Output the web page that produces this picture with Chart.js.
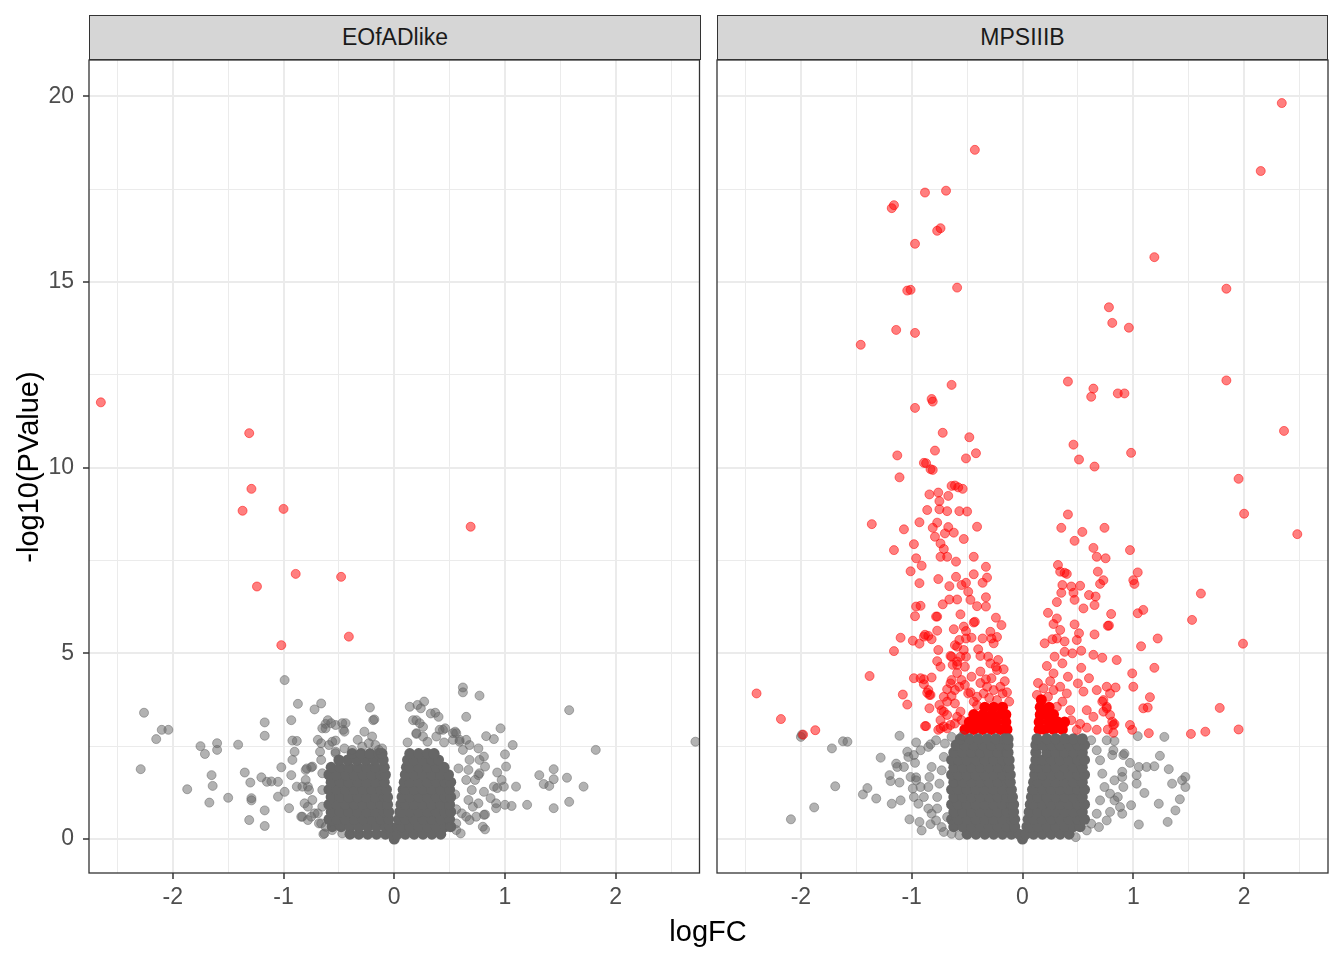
<!DOCTYPE html>
<html>
<head>
<meta charset="utf-8">
<script src="https://cdn.jsdelivr.net/npm/chart.js@4.4.1/dist/chart.umd.min.js"></script>
<style>
  body { margin: 0; width: 1344px; height: 960px; position: relative; background: #fff; overflow: hidden;
         font-family: "Liberation Sans", Arial, sans-serif; }
  canvas { position: absolute; top: 0; }
  .strip { position: absolute; top: 15px; height: 45px; box-sizing: border-box; background: #D6D6D6;
           border: 1.3px solid #333; color: #1A1A1A; font-size: 23px; line-height: 43px; text-align: center; }
  .title { position: absolute; width: 400px; height: 40px; line-height: 40px; text-align: center;
           font-size: 29px; color: #000; }
</style>
</head>
<body>
<canvas id="c1" width="705" height="960" style="left:0"></canvas>
<canvas id="c2" width="639" height="960" style="left:705px"></canvas>
<div class="strip" id="s1" style="left:89px;width:612px"></div>
<div class="strip" id="s2" style="left:717px;width:611px"></div>
<div class="title" style="left:-172px;top:447px;transform:rotate(-90deg)">-log10(PValue)</div>
<div class="title" style="left:508px;top:911px">logFC</div>
<script>
const FONT = '"Liberation Sans", Arial, sans-serif';

// axes
const panelNames = ['EOfADlike', 'MPSIIIB'];
const xTicks = [-2.5, -2, -1.5, -1, -0.5, 0, 0.5, 1, 1.5, 2, 2.5];
const yTicks = [0, 2.5, 5, 7.5, 10, 12.5, 15, 17.5, 20];
const xRange = [-2.757, 2.757];
const yRange = [-0.916, 20.98];

// EOfADlike: significant genes (red) and the rest (grey)
const eofadRed = [[-2.65,11.76],[-1.31,10.93],[-1.29,9.43],[-1.37,8.84],[-1.00,8.89],[0.69,8.41],
  [-0.89,7.14],[-0.48,7.06],[-1.24,6.80],[-0.41,5.45],[-1.02,5.22]];

const eofadGray = [
  [-0.99,4.28],[-2.26,3.40],[-2.10,2.94],[-2.04,2.94],[-2.15,2.69],[-2.29,1.88],[-1.75,2.50],[-1.71,2.29],
  [-1.60,2.58],[-1.60,2.40],[-1.41,2.54],[-1.65,1.72],[-1.64,1.43],[-1.87,1.34],[-1.67,0.98],[-1.50,1.11],
  [-1.35,1.79],[-1.30,1.52],[-1.29,1.10],[-1.29,1.04],[-1.31,0.51],[-1.17,0.77],[-1.17,0.35],[-1.17,3.14],
  [-1.17,2.78],[-0.87,3.64],[-0.93,3.20],[-0.66,3.65],[-0.72,3.49],[-0.92,2.65],[-0.88,2.64],[-0.90,2.35],
  [-0.92,2.13],[-1.02,1.93],[-1.20,1.66],[-1.15,1.54],[-1.11,1.55],[-1.05,1.54],[-1.05,1.14],[-0.95,0.83],
  [-0.93,1.72],[-0.99,1.27],[-0.88,1.41],[-0.84,0.60],[-0.64,0.13],[-0.60,3.20],[-0.62,3.10],[-0.53,3.07],
  [-0.44,3.12],[-0.46,2.94],[-0.22,3.54],[-0.19,3.20],[-0.27,2.89],[-0.69,2.67],[-0.66,2.58],[-0.59,2.53],
  [-0.53,2.65],[-0.67,2.35],[-0.53,2.31],[-0.66,2.13],[-0.79,1.90],[-0.75,1.93],[-0.80,1.59],[-0.78,1.41],
  [-0.78,0.87],[-0.75,0.60],[-0.69,0.69],[-0.66,0.42],[-0.62,2.98],[-0.65,2.98],[-0.57,3.12],[-0.47,3.12],
  [-0.45,2.89],[-0.18,3.22],[-0.20,2.76],[-0.14,2.40],[-0.56,2.62],[-0.53,2.35],[-0.45,2.44],[-0.38,2.40],
  [-0.33,2.67],[-0.29,2.49],[-0.23,2.58],[-0.17,2.53],[-0.11,2.44],[-0.80,1.86],[-0.74,1.95],[-0.83,1.41],
  [-0.77,1.32],[-0.81,0.96],[-0.74,1.05],[-0.83,0.60],[-0.78,0.51],[-0.72,0.69],[-0.65,0.87],[-0.65,1.77],
  [-0.65,1.32],[-0.68,0.42],[-0.62,0.33],[-0.63,0.15],[-0.56,0.24],[-0.47,0.15],[-0.38,0.15],
  [0.62,4.08],[0.62,3.95],[0.77,3.86],[0.27,3.70],[0.24,3.52],[0.17,3.20],[0.20,3.20],[0.33,3.38],
  [0.37,3.40],[0.40,3.29],[0.65,3.29],[0.26,3.02],[0.20,2.83],[0.41,2.94],[0.46,2.98],[0.55,2.89],
  [0.59,2.67],[0.65,2.67],[0.68,2.53],[0.76,2.44],[0.83,2.77],[0.90,2.69],[0.96,2.98],[1.07,2.53],
  [1.00,2.28],[1.01,1.95],[1.58,3.47],[1.82,2.40],[2.72,2.62],[1.31,1.72],[1.44,1.88],[1.44,1.61],
  [1.35,1.48],[1.40,1.43],[1.56,1.65],[1.71,1.41],[1.44,0.83],[1.58,1.00],[1.20,0.92],[1.10,1.41],
  [1.06,0.89],[1.00,0.92],[0.93,1.79],[0.97,1.59],[0.99,1.41],[0.93,1.37],[0.90,1.41],[0.92,0.83],
  [0.82,0.66],[0.82,0.26],[0.81,1.27],[0.87,1.10],[0.76,0.96],[0.74,0.60],[0.68,0.51],[0.56,0.42],
  [0.50,0.33],[0.81,2.22],[0.82,1.95],[0.77,2.13],[0.68,2.13],[0.67,1.86],[0.76,1.72],[0.73,1.59],
  [0.62,2.40],[0.56,2.85],[0.53,2.67],[0.65,1.59],[0.70,1.32],[0.67,1.05],[0.71,0.87],[0.61,0.69],
  [0.14,3.56],[0.21,3.61],[0.23,3.12],[0.20,2.85],[0.26,2.76],[0.38,2.76],[0.44,2.94],[0.53,2.85],
  [0.59,2.62],[0.12,2.60],[0.30,2.62],[0.45,2.60],[0.80,0.33],[0.81,0.65],[0.92,0.96],[0.56,0.24],
  [0.65,0.60],[0.77,1.77],[0.60,0.15],[0.55,1.20],[0.58,1.90],[0.56,0.80]
];

// EOfADlike: the solid grey mass of overlapping genes, by row [y, [x...]]
const eofadCoreRows = [
  [0.00, [0]],
  [0.13, [-0.40,-0.32,-0.24,-0.16,-0.08,-0.02,0.03,0.10,0.18,0.26,0.34,0.42]],
  [0.33, [-0.56,-0.48,-0.40,-0.32,-0.24,-0.16,-0.08,-0.04,0.03,0.07,0.14,0.22,0.30,0.38,0.46,0.51]],
  [0.53, [-0.59,-0.52,-0.44,-0.36,-0.28,-0.20,-0.12,-0.05,0.04,0.10,0.18,0.26,0.34,0.42,0.50]],
  [0.73, [-0.57,-0.49,-0.41,-0.33,-0.25,-0.17,-0.09,-0.05,0.05,0.07,0.14,0.22,0.30,0.38,0.46,0.51]],
  [0.93, [-0.59,-0.52,-0.44,-0.36,-0.28,-0.20,-0.12,-0.06,0.06,0.10,0.18,0.26,0.34,0.42,0.50]],
  [1.13, [-0.57,-0.49,-0.41,-0.33,-0.25,-0.17,-0.09,-0.06,0.07,0.14,0.22,0.30,0.38,0.46,0.51]],
  [1.33, [-0.59,-0.52,-0.44,-0.36,-0.28,-0.20,-0.12,-0.07,0.08,0.10,0.18,0.26,0.34,0.42,0.50]],
  [1.53, [-0.57,-0.49,-0.41,-0.33,-0.25,-0.17,-0.09,0.09,0.14,0.22,0.30,0.38,0.46,0.51]],
  [1.73, [-0.59,-0.52,-0.44,-0.36,-0.28,-0.20,-0.12,-0.08,0.10,0.18,0.26,0.34,0.42,0.49]],
  [1.93, [-0.57,-0.49,-0.41,-0.33,-0.25,-0.17,-0.09,0.11,0.14,0.22,0.30,0.38,0.45]],
  [2.13, [-0.50,-0.42,-0.34,-0.26,-0.18,-0.10,0.12,0.18,0.26,0.34,0.40]],
  [2.30, [-0.38,-0.30,-0.22,-0.14,-0.11,0.14,0.22,0.30,0.36]]
];

// MPSIIIB
const mpsRed = [
  [2.34,19.82],[-0.43,18.56],[2.15,17.99],[-0.88,17.41],[-0.69,17.46],[-1.16,17.07],[-1.18,16.99],[-0.74,16.45],
  [-0.77,16.38],[-0.97,16.03],[1.19,15.67],[-1.04,14.77],[-1.01,14.79],[-0.59,14.85],[1.84,14.82],[0.78,14.32],
  [0.81,13.90],[0.96,13.77],[-1.14,13.71],[-0.97,13.63],[-1.46,13.31],[-0.64,12.23],[0.41,12.32],[1.84,12.35],
  [0.64,12.13],[0.62,11.91],[0.86,12.00],[0.92,12.00],[-0.82,11.85],[-0.81,11.78],[-0.97,11.61],[2.36,10.99],
  [-0.72,10.94],[-0.48,10.82],[0.46,10.62],[-0.79,10.46],[-1.13,10.33],[-0.42,10.39],[0.98,10.40],[-0.51,10.25],
  [0.51,10.22],[0.65,10.03],
  [-0.89,10.13],[-0.87,10.12],[-0.83,9.96],[-0.81,9.94],[-1.11,9.74],[-0.64,9.51],[-0.61,9.52],[-0.58,9.47],
  [-0.54,9.43],[-0.67,9.24],[-0.84,9.28],[-0.76,9.33],[-0.75,9.10],[-0.86,8.86],[-0.75,8.88],[-0.68,8.83],
  [-0.57,8.83],[-0.50,8.82],[-1.36,8.48],[-1.07,8.34],[-0.93,8.53],[-0.81,8.38],[-0.77,8.52],[-0.67,8.40],
  [-0.62,8.25],[-0.70,8.23],[-0.79,8.14],[-0.41,8.41],[-0.53,8.08],[-0.98,7.94],[-1.16,7.78],[-0.74,7.96],
  [-0.71,7.81],[-0.68,7.60],[-0.74,7.60],[-0.60,7.47],[-0.44,7.60],[-0.96,7.56],[-0.91,7.36],[-1.01,7.21],
  [-0.33,7.33],[-0.32,7.04],[-0.44,7.13],[-0.93,6.89],[-0.76,7.00],[-0.66,6.81],[-0.60,7.06],[-0.55,6.84],
  [-0.51,6.90],[-0.36,6.90],[-0.49,6.66],[-0.47,6.44],[-0.41,6.27],[-0.33,6.26],[-0.33,6.51],[-0.66,6.45],
  [-0.59,6.45],[-0.72,6.32],[-0.96,6.26],[-0.92,6.28],[-0.97,6.00],[-0.78,5.99],[-0.77,5.99],[-0.56,6.05],
  [-0.43,5.85],[-0.44,5.83],[-0.24,5.96],[-0.19,5.76],[-0.62,5.65],[-0.53,5.72],[-0.51,5.60],[-0.77,5.61],
  [-0.85,5.47],[-0.88,5.50],[-0.89,5.45],[-0.82,5.38],[-1.10,5.42],[-0.99,5.34],[-0.93,5.26],[-1.16,5.06],
  [-0.76,5.09],[-0.59,5.18],[-0.61,5.22],[-0.57,5.36],[-0.51,5.40],[-0.46,5.42],[-0.36,5.40],[-0.28,5.40],
  [-0.23,5.44],[-0.29,5.58],[-0.26,5.27],[-0.53,5.09],[-0.51,4.91],[-0.40,5.11],[-0.38,4.93],[-0.65,4.93],
  [-0.59,4.69],[-0.74,4.64],[-0.77,4.79],[-0.31,4.91],[-0.29,4.73],[-0.22,4.82],[-0.24,4.64],[-0.17,4.57],
  [-1.38,4.39],[-0.98,4.33],[-0.92,4.33],[-0.89,4.30],[-0.82,4.35],[-0.89,4.17],[-0.86,3.94],[-0.84,3.88],
  [-0.84,3.52],[-0.68,4.03],[-0.64,3.85],[-0.61,3.65],[-0.56,3.43],[-0.68,3.70],[-0.73,3.47],
  [-0.52,4.15],[-0.49,3.92],[-0.44,3.70],[-0.41,3.83],[-0.35,3.92],[-0.32,4.10],[-0.26,4.01],[-0.23,3.74],
  [-0.18,3.92],[-0.20,4.10],[-0.28,4.33],[-0.23,4.55],[-0.88,3.04],[-0.76,2.94],[-0.71,3.03],[-0.65,3.07],
  [-0.61,3.11],[-0.56,4.91],[-0.52,4.64],[-0.46,4.37],[-0.38,4.51],[-0.59,4.47],[-0.55,4.28],[-0.65,4.19],
  [-0.61,4.01],[-0.71,3.83],[-0.74,3.20],[-0.68,3.34],[-0.59,3.29],[-0.55,3.20],[-0.52,2.94],
  [-0.47,3.95],[-0.38,4.20],[-0.30,3.80],[-0.14,3.95],[-0.12,3.70],[-0.41,3.60],[-0.33,4.30],[-0.16,4.25],
  [-2.40,3.92],[-2.18,3.23],[-1.98,2.81],[-1.87,2.93],[-1.08,3.89],[-1.04,3.62],[-0.87,3.04],[-0.85,4.01],
  [-0.83,3.88],[-0.75,3.61],[-0.71,3.43],[-0.74,2.98],[-0.68,2.98],[-0.64,4.91],[-0.63,4.69],[-0.59,4.78],
  [-0.64,4.28],[-0.57,4.10],
  [0.41,8.74],[0.35,8.38],[0.54,8.27],[0.47,8.03],[0.74,8.38],[0.97,7.78],[0.64,7.84],[0.67,7.60],
  [0.75,7.56],[0.32,7.38],[0.34,7.20],[0.38,7.17],[0.40,7.14],[0.68,7.20],[0.73,6.97],[0.70,6.87],
  [1.04,7.18],[1.00,6.97],[1.01,6.87],[0.36,6.84],[0.35,6.63],[0.44,6.80],[0.52,6.82],[0.46,6.63],
  [0.47,6.44],[0.60,6.57],[0.66,6.53],[0.65,6.30],[0.31,6.38],[0.55,6.21],[1.04,6.08],[1.09,6.17],
  [0.80,6.06],[0.23,6.09],[0.31,5.94],[0.28,5.79],[0.34,5.63],[0.31,5.40],[0.47,5.78],[0.51,5.54],
  [0.49,5.36],[0.77,5.74],[0.65,5.51],[0.20,5.27],[0.27,5.38],[0.38,5.32],[1.07,5.19],[0.29,4.91],
  [0.38,5.04],[0.45,5.00],[0.53,5.07],[0.64,4.96],[0.72,4.88],[0.85,4.82],
  [0.22,4.66],[0.28,4.46],[0.36,4.73],[0.41,4.37],[0.53,4.61],[0.60,4.33],[1.00,4.10],
  [0.13,3.88],[0.19,4.06],[0.23,3.83],[0.28,4.01],[0.34,4.10],[0.40,3.92],[0.50,4.19],[0.55,3.97],
  [0.67,4.01],[0.76,4.10],[0.79,3.92],[0.84,4.08],
  [0.16,3.29],[0.22,3.47],[0.31,3.56],[0.43,3.47],[0.58,3.47],[0.64,3.29],[0.73,3.43],[0.82,3.07],
  [0.67,2.94],[0.49,2.94],[0.44,3.20],[0.52,3.10],[0.58,3.00],[0.36,3.70],[0.14,4.20],[0.25,4.25],
  [1.95,9.70],[2.00,8.76],[2.48,8.21],[1.61,6.61],[1.53,5.90],[1.99,5.26],[1.22,5.40],[0.78,5.75],
  [0.99,4.46],[1.19,4.61],[0.73,3.74],[1.15,3.82],[1.09,3.52],[1.13,3.54],[0.76,3.52],[0.79,3.34],
  [0.83,3.10],[0.97,3.07],[0.99,2.94],[1.14,2.85],[0.77,2.95],[0.82,2.86],[1.78,3.53],[1.52,2.83],
  [1.65,2.89],[1.95,2.95],[0.72,3.70],[0.76,3.56],[0.81,3.16]
];

const mpsGray = [
  [-2.00,2.75],[-1.99,2.81],[-1.72,2.44],[-1.62,2.63],[-1.58,2.62],[-1.69,1.42],[-1.40,1.37],[-1.44,1.20],
  [-1.32,1.09],[-1.88,0.85],[-2.09,0.53],[-1.28,2.19],[-1.20,1.72],[-1.19,1.56],[-1.11,1.52],[-1.10,1.04],
  [-1.18,0.95],[-1.11,2.78],[-1.14,2.03],[-1.13,1.94],[-1.07,1.94],[-1.04,2.35],[-1.03,2.21],[-0.98,2.26],
  [-0.97,2.05],[-0.96,2.60],[-1.01,1.67],[-0.96,1.66],[-0.99,1.36],[-0.98,1.13],[-1.02,0.53],[-0.93,0.46],
  [-0.91,0.23],[-0.83,0.40],[-0.85,2.48],[-0.83,2.55],
  [-0.82,1.94],[-0.84,1.67],[-0.85,1.40],[-0.89,1.13],[-0.85,0.82],[-0.82,0.68],[-0.78,0.50],[-0.73,0.32],
  [-0.71,0.19],[-0.64,0.14],[-0.57,0.10],[-0.77,1.13],[-0.75,1.49],[-0.73,1.85],[-0.71,2.21],[-0.70,2.57],
  [-0.78,2.66],[-0.92,2.39],[-0.96,1.58],[-0.92,1.40],[-0.94,0.95],[-0.77,0.82],[-0.68,0.59],[-0.64,2.75],
  [-0.54,2.78],
  [1.04,2.77],[1.28,2.75],[1.24,2.24],[1.32,1.88],[1.05,1.94],[1.12,1.94],[1.19,1.96],[1.03,1.72],
  [1.03,1.49],[1.10,1.24],[1.35,1.49],[1.44,1.58],[1.47,1.67],[1.47,1.40],[1.42,1.07],[1.38,0.77],
  [1.31,0.46],[1.23,0.95],[1.05,0.39],
  [0.91,2.26],[0.97,2.05],[0.90,1.81],[0.90,1.67],[0.91,1.40],[0.86,1.13],[0.88,0.86],[0.98,0.91],
  [0.90,0.68],[0.79,0.73],[0.82,2.39],[0.83,2.64],[0.92,2.30],
  [0.62,2.66],[0.67,2.39],[0.70,2.12],[0.72,1.76],[0.74,1.40],[0.70,1.04],[0.67,0.68],[0.62,0.41],
  [0.58,0.23],[0.48,0.05],[0.76,2.66],[0.81,2.26],[0.83,1.58],[0.79,1.22],[0.76,0.50],[0.69,0.32],
  [0.83,1.04]
];

const mpsCoreRows = [
  [0.00, [0]],
  [0.13, [-0.50,-0.42,-0.34,-0.26,-0.18,-0.10,-0.03,0.03,0.10,0.18,0.26,0.34,0.42]],
  [0.33, [-0.62,-0.54,-0.46,-0.38,-0.30,-0.22,-0.14,-0.07,0.04,0.07,0.14,0.22,0.30,0.38,0.46,0.52]],
  [0.53, [-0.64,-0.58,-0.50,-0.42,-0.34,-0.26,-0.18,-0.10,-0.07,0.05,0.10,0.18,0.26,0.34,0.42,0.50,0.56]],
  [0.73, [-0.62,-0.54,-0.46,-0.38,-0.30,-0.22,-0.14,-0.08,0.06,0.14,0.22,0.30,0.38,0.46,0.54]],
  [0.93, [-0.64,-0.58,-0.50,-0.42,-0.34,-0.26,-0.18,-0.10,-0.08,0.07,0.10,0.18,0.26,0.34,0.42,0.50,0.56]],
  [1.13, [-0.62,-0.54,-0.46,-0.38,-0.30,-0.22,-0.14,-0.09,0.08,0.14,0.22,0.30,0.38,0.46,0.54]],
  [1.33, [-0.64,-0.58,-0.50,-0.42,-0.34,-0.26,-0.18,-0.10,0.09,0.10,0.18,0.26,0.34,0.42,0.50,0.56]],
  [1.53, [-0.62,-0.54,-0.46,-0.38,-0.30,-0.22,-0.14,-0.11,0.10,0.14,0.22,0.30,0.38,0.46,0.54]],
  [1.73, [-0.64,-0.58,-0.50,-0.42,-0.34,-0.26,-0.18,-0.11,0.11,0.18,0.26,0.34,0.42,0.50,0.56]],
  [1.93, [-0.62,-0.54,-0.46,-0.38,-0.30,-0.22,-0.14,-0.12,0.11,0.14,0.22,0.30,0.38,0.46,0.54]],
  [2.13, [-0.64,-0.58,-0.50,-0.42,-0.34,-0.26,-0.18,-0.12,0.12,0.18,0.26,0.34,0.42,0.50,0.56]],
  [2.33, [-0.62,-0.54,-0.46,-0.38,-0.30,-0.22,-0.14,-0.13,0.12,0.22,0.30,0.38,0.46,0.54]],
  [2.53, [-0.60,-0.52,-0.44,-0.36,-0.28,-0.20,-0.13,0.12,0.18,0.26,0.34,0.42,0.50,0.56]],
  [2.70, [-0.56,-0.48,-0.40,-0.32,-0.24,-0.16,-0.13,0.13,0.22,0.30,0.38,0.46,0.54]]
];

const mpsRedCoreRows = [
  [2.95, [-0.52,-0.44,-0.36,-0.28,-0.20,-0.14,0.15,0.20,0.28,0.36]],
  [3.15, [-0.48,-0.40,-0.32,-0.24,-0.15,0.15,0.24,0.32,0.38]],
  [3.35, [-0.44,-0.36,-0.28,-0.20,-0.15,0.16,0.20,0.28]],
  [3.55, [-0.34,-0.26,-0.18,0.16,0.24]],
  [3.75, [0.17]]
];

const isMajorX = v => Number.isInteger(v);
const isMajorY = v => v % 5 === 0;
const toXY = p => ({ x: p[0], y: p[1] });
const fromRows = rows => rows.flatMap(([y, xs]) => xs.map(x => ({ x, y })));

const panelBorder = {
  id: 'panelBorder',
  afterDraw(chart) {
    const { ctx, chartArea: a } = chart;
    ctx.save();
    ctx.strokeStyle = '#333333';
    ctx.lineWidth = 1.3;
    ctx.strokeRect(a.left, a.top, a.right - a.left, a.bottom - a.top);
    ctx.restore();
  }
};

function pointSet(data, fill, stroke, radius, bw) {
  return {
    data,
    backgroundColor: fill, borderColor: stroke,
    pointBackgroundColor: fill, pointBorderColor: stroke,
    pointRadius: radius, pointHoverRadius: radius, pointBorderWidth: bw, borderWidth: bw
  };
}

function makePanel(id, red, gray, grayCore, redCore, showY) {
  new Chart(document.getElementById(id), {
    type: 'scatter',
    data: {
      // first dataset is drawn on top
      datasets: [
        pointSet(red.map(toXY), 'rgba(255,0,0,0.5)', 'rgba(255,0,0,0.5)', 4.5, 1),
        pointSet(gray.map(toXY), 'rgba(102,102,102,0.5)', 'rgba(102,102,102,0.5)', 4.5, 1),
        pointSet(fromRows(grayCore), 'rgb(102,102,102)', 'rgb(102,102,102)', 5.5, 0),
        pointSet(fromRows(redCore), 'rgb(255,0,0)', 'rgb(255,0,0)', 5.5, 0)
      ]
    },
    options: {
      responsive: false,
      animation: false,
      events: [],
      layout: { padding: { top: 60, right: showY ? 4 : 16, left: 0, bottom: 0 } },
      plugins: { legend: { display: false }, tooltip: { enabled: false } },
      scales: {
        x: {
          type: 'linear', min: xRange[0], max: xRange[1],
          afterBuildTicks: s => { s.ticks = xTicks.map(v => ({ value: v })); },
          afterFit: s => { s.height = 87; s.paddingLeft = 0; s.paddingRight = 0; },
          border: { display: false },
          grid: {
            color: '#EBEBEB',
            lineWidth: c => (c.tick && isMajorX(c.tick.value)) ? 2 : 1,
            tickColor: c => (c.tick && isMajorX(c.tick.value)) ? '#333333' : 'rgba(0,0,0,0)',
            tickLength: 6, tickWidth: 1.5
          },
          ticks: {
            autoSkip: false, maxRotation: 0, padding: 5, color: '#4D4D4D',
            font: { family: FONT, size: 23 },
            callback: v => isMajorX(v) ? String(v) : ''
          }
        },
        y: {
          type: 'linear', min: yRange[0], max: yRange[1],
          afterBuildTicks: s => { s.ticks = yTicks.map(v => ({ value: v })); },
          afterFit: s => { s.width = showY ? 89 : 12; s.paddingTop = 0; s.paddingBottom = 0; },
          border: { display: false },
          grid: {
            color: '#EBEBEB',
            lineWidth: c => (c.tick && isMajorY(c.tick.value)) ? 2 : 1,
            tickColor: c => (c.tick && isMajorY(c.tick.value)) ? '#333333' : 'rgba(0,0,0,0)',
            drawTicks: showY, tickLength: 6, tickWidth: 1.5
          },
          ticks: {
            display: showY, padding: 9, color: '#4D4D4D',
            font: { family: FONT, size: 23 },
            callback: v => isMajorY(v) ? String(v) : ''
          }
        }
      }
    },
    plugins: [panelBorder]
  });
}

document.getElementById('s1').textContent = panelNames[0];
document.getElementById('s2').textContent = panelNames[1];
makePanel('c1', eofadRed, eofadGray, eofadCoreRows, [], true);
makePanel('c2', mpsRed, mpsGray, mpsCoreRows, mpsRedCoreRows, false);
</script>
</body>
</html>
